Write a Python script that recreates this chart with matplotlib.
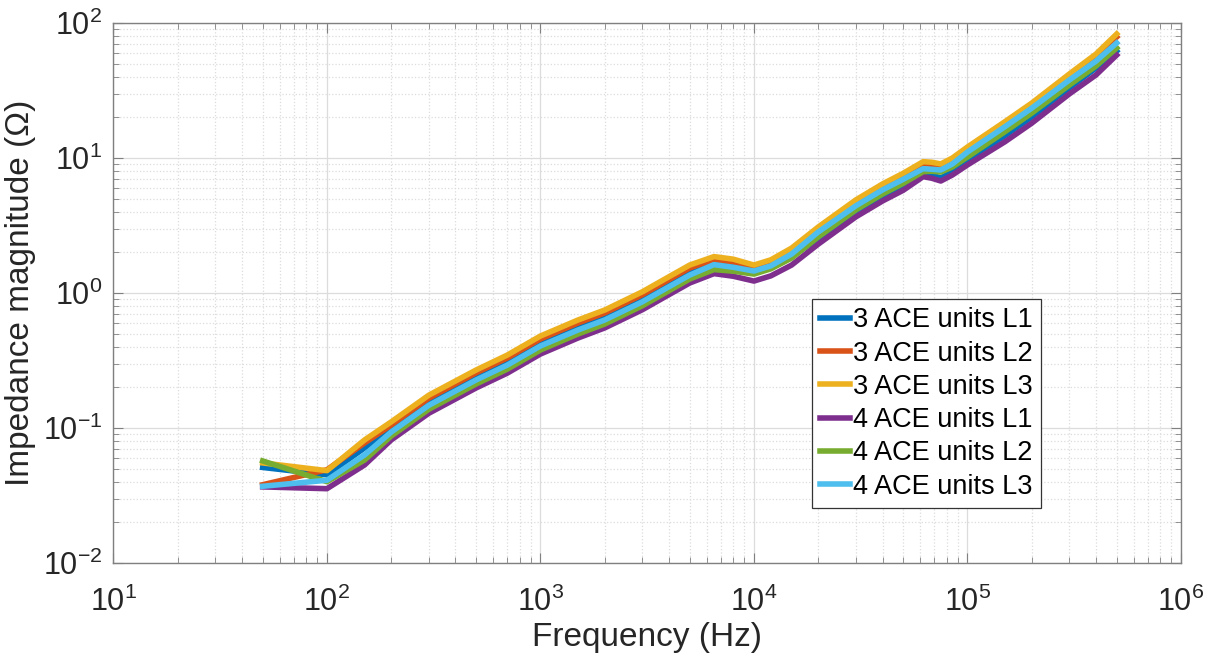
import numpy as np
import matplotlib
matplotlib.use('Agg')
import matplotlib.pyplot as plt
from matplotlib.ticker import LogLocator, NullFormatter

plt.rcParams['font.family'] = ['Liberation Sans', 'DejaVu Sans']
plt.rcParams['mathtext.default'] = 'regular'
plt.rcParams['axes.unicode_minus'] = False

# frequency points (Hz)
freq = [50, 100, 150, 200, 300, 500, 700, 1e3, 1.5e3, 2e3, 3e3, 4e3, 5e3, 6.5e3,
        8e3, 1e4, 1.2e4, 1.5e4, 2e4, 3e4, 4e4, 5e4, 6.2e4, 6.8e4, 7.5e4, 8.5e4,
        1e5, 1.5e5, 2e5, 3e5, 4e5, 5e5]

# impedance magnitude (Ohm)
ace3_l1 = [0.051, 0.045, 0.0711, 0.0982, 0.155, 0.239, 0.308, 0.426, 0.560, 0.664,
           0.905, 1.171, 1.428, 1.680, 1.640, 1.504, 1.616, 1.876, 2.51, 3.99,
           5.23, 6.28, 7.65, 7.45, 7.12, 7.88, 9.50, 14.66, 20.1, 33.0, 46.4, 62.0]
ace3_l2 = [0.038, 0.049, 0.0774, 0.105, 0.166, 0.256, 0.330, 0.456, 0.599, 0.711,
           0.969, 1.254, 1.53, 1.77, 1.70, 1.58, 1.70, 2.08, 2.98, 4.72,
           6.20, 7.44, 9.07, 8.98, 8.72, 9.66, 11.65, 17.97, 24.6, 40.5, 56.9, 78.8]
ace3_l3 = [0.0551, 0.0483, 0.0815, 0.111, 0.175, 0.269, 0.347, 0.480, 0.631, 0.748,
           1.02, 1.32, 1.61, 1.86, 1.78, 1.61, 1.76, 2.15, 3.08, 4.89,
           6.42, 7.70, 9.39, 9.30, 9.03, 10.0, 12.06, 18.6, 25.5, 41.9, 58.9, 82.9]
ace4_l1 = [0.0366, 0.0355, 0.0532, 0.0815, 0.1285, 0.198, 0.255, 0.353, 0.464, 0.551,
           0.751, 0.972, 1.185, 1.391, 1.330, 1.225, 1.339, 1.609, 2.30, 3.66,
           4.80, 5.76, 7.27, 7.08, 6.75, 7.48, 8.88, 13.2, 18.1, 29.8, 41.2, 57.9]
ace4_l2 = [0.057, 0.040, 0.0579, 0.0872, 0.1376, 0.212, 0.273, 0.378, 0.497, 0.589,
           0.804, 1.040, 1.269, 1.490, 1.450, 1.381, 1.51, 1.813, 2.60, 4.12,
           5.41, 6.49, 7.92, 7.98, 7.87, 8.58, 10.17, 15.68, 21.5, 34.7, 48.0, 65.3]
ace4_l3 = [0.037, 0.041, 0.0631, 0.0933, 0.1472, 0.227, 0.2925, 0.405, 0.532, 0.631,
           0.860, 1.113, 1.357, 1.622, 1.550, 1.454, 1.589, 1.942, 2.83, 4.42,
           5.80, 6.95, 8.33, 8.25, 8.15, 9.03, 11.07, 17.07, 23.4, 37.8, 52.2, 71.1]

series = [ace3_l1, ace3_l2, ace3_l3, ace4_l1, ace4_l2, ace4_l3]
labels = ['3 ACE units L1', '3 ACE units L2', '3 ACE units L3',
          '4 ACE units L1', '4 ACE units L2', '4 ACE units L3']
colors = ['#0072BD', '#D95319', '#EDB120', '#7E2F8E', '#77AC30', '#4DBEEE']

fig = plt.figure(figsize=(12.12, 6.66), dpi=100)
ax = fig.add_axes([0.0936, 0.1547, 0.8808, 0.8108])

for y, lab, c in zip(series, labels, colors):
    ax.plot(freq, y, color=c, lw=4.0, label=lab, solid_joinstyle='round')

ax.set_xscale('log')
ax.set_yscale('log')
ax.set_xlim(1e1, 1e6)
ax.set_ylim(1e-2, 1e2)

ax.xaxis.set_major_locator(LogLocator(base=10, numticks=10))
ax.yaxis.set_major_locator(LogLocator(base=10, numticks=10))
ax.xaxis.set_minor_locator(LogLocator(base=10, subs=np.arange(2, 10), numticks=20))
ax.yaxis.set_minor_locator(LogLocator(base=10, subs=np.arange(2, 10), numticks=20))
ax.xaxis.set_minor_formatter(NullFormatter())
ax.yaxis.set_minor_formatter(NullFormatter())

ax.grid(True, which='major', color='#dcdcdc', linestyle='-', linewidth=0.9)
ax.grid(True, which='minor', color='#dcdcdc', linestyle=':', linewidth=0.9)
ax.set_axisbelow(True)

ax.tick_params(which='both', direction='in', top=True, right=True, colors='#808080',
               labelcolor='#262626')
ax.tick_params(which='major', length=7, labelsize=22)
ax.tick_params(which='minor', length=4)
ax.tick_params(axis='x', pad=17)
ax.tick_params(axis='y', pad=8)
for s in ax.spines.values():
    s.set_color('#808080')
    s.set_linewidth(1.0)

ax.set_xlabel('Frequency (Hz)', fontsize=24, color='#262626', labelpad=3)
ax.set_ylabel('Impedance magnitude (\u03a9)', fontsize=24, color='#262626', labelpad=5)

leg = ax.legend(loc='lower left', bbox_to_anchor=(0.654, 0.102), fontsize=19.5,
                handlelength=1.1, handletextpad=0.12, labelspacing=0.27,
                borderpad=0.3, borderaxespad=0, fancybox=False, framealpha=1)
leg.get_frame().set_edgecolor('#333333')
leg.get_frame().set_linewidth(0.9)

fig.savefig('out.png', dpi=100)
